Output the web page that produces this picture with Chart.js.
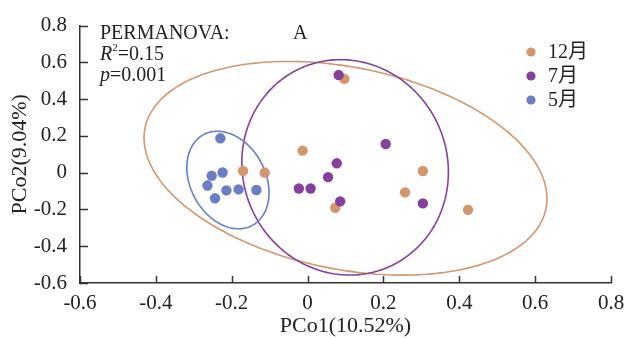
<!DOCTYPE html>
<html>
<head>
<meta charset="utf-8">
<script src="https://cdn.jsdelivr.net/npm/chart.js@4.4.1/dist/chart.umd.min.js"></script>
<style>
  html, body { margin: 0; padding: 0; background: #fff; }
  #wrap { width: 625px; height: 340px; }
</style>
</head>
<body>
<div id="wrap"><canvas id="pcoa" width="625" height="340"></canvas></div>
<script>
// --- data ---
const groupNames = ["12月", "7月", "5月"];
const groupColors = ["#d3976f", "#83419b", "#6b7ec4"];

const decX = [-0.170, -0.113, -0.013, 0.097, 0.073, 0.304, 0.257, 0.423];
const decY = [0.010, 0.000, 0.120, 0.510, -0.191, 0.009, -0.107, -0.202];
const julX = [0.082, 0.206, 0.077, 0.054, -0.023, 0.008, 0.086, 0.304];
const julY = [0.531, 0.156, 0.051, -0.024, -0.086, -0.086, -0.156, -0.167];
const mayX = [-0.230, -0.224, -0.253, -0.264, -0.214, -0.182, -0.135, -0.244];
const mayY = [0.187, 0.001, -0.017, -0.070, -0.096, -0.091, -0.094, -0.139];

// confidence ellipses (centre, semi axes, rotation in degrees, data units)
const ellCx = [0.100, 0.099, -0.210];
const ellCy = [0.024, 0.029, -0.040];
const ellRx = [0.634, 0.272, 0.104];
const ellRy = [0.467, 0.586, 0.267];
const ellAng = [-53.8, 1.5, 7.1];

const xTicks = [-0.6, -0.4, -0.2, 0, 0.2, 0.4, 0.6, 0.8];
const yTicks = [-0.6, -0.4, -0.2, 0, 0.2, 0.4, 0.6, 0.8];

const statLines = ["PERMANOVA:", "R2=0.15", "p=0.001"];
const panelLabel = "A";

const FONT = "'Liberation Serif', 'Noto Sans CJK SC', serif";
const INK = "#222";

function toPoints(xs, ys) { return xs.map((x, i) => ({ x, y: ys[i] })); }

function ellipse(i) {
    const pts = [];
    const a = ellAng[i] * Math.PI / 180;
    for (let k = 0; k <= 120; k++) {
        const t = k / 120 * 2 * Math.PI;
        const ex = ellRx[i] * Math.cos(t), ey = ellRy[i] * Math.sin(t);
        pts.push({ x: ellCx[i] + ex * Math.cos(a) - ey * Math.sin(a),
                   y: ellCy[i] + ex * Math.sin(a) + ey * Math.cos(a) });
    }
    return pts;
}

const series = [toPoints(decX, decY), toPoints(julX, julY), toPoints(mayX, mayY)];

const datasets = [];
series.forEach((pts, i) => {
    datasets.push({ label: groupNames[i], data: pts, backgroundColor: groupColors[i],
        borderWidth: 0, pointRadius: 5.2, order: 3 - i });
});
series.forEach((pts, i) => {
    // small tension keeps chart.js off its "fast path" that flattens vertical bits
    datasets.push({ label: groupNames[i] + ' ellipse', data: ellipse(i), showLine: true,
        borderColor: groupColors[i], borderWidth: 1.6, pointRadius: 0, fill: false,
        tension: 0.05, order: 6 - i });
});

// inward tick marks, legend and PERMANOVA text
const extras = {
    id: 'extras',
    afterDraw(chart) {
        const ctx = chart.ctx;
        const xs = chart.scales.x, ys = chart.scales.y;
        const area = chart.chartArea;
        ctx.save();
        ctx.strokeStyle = '#333';
        ctx.lineWidth = 1.5;
        xTicks.forEach(v => {
            const p = Math.round(xs.getPixelForValue(v)) + 0.5;
            ctx.beginPath(); ctx.moveTo(p, area.bottom); ctx.lineTo(p, area.bottom - 7); ctx.stroke();
        });
        yTicks.forEach(v => {
            const p = Math.round(ys.getPixelForValue(v)) + 0.5;
            ctx.beginPath(); ctx.moveTo(area.left, p); ctx.lineTo(area.left + 8, p); ctx.stroke();
        });

        // legend
        ctx.textBaseline = 'middle';
        ctx.font = '20px ' + FONT;
        groupNames.forEach((n, i) => {
            const y = 52 + i * 24;
            ctx.fillStyle = groupColors[i];
            ctx.beginPath(); ctx.arc(531, y, 4.6, 0, Math.PI * 2); ctx.fill();
            ctx.fillStyle = INK;
            ctx.fillText(n, 548, y + 1);
        });

        // stats text
        ctx.textBaseline = 'alphabetic';
        ctx.fillStyle = INK;
        const left = 100;
        ctx.font = '20px ' + FONT;
        ctx.fillText(statLines[0], left, 39);
        ctx.fillText(panelLabel, 293, 39);
        // R² line
        ctx.font = 'italic 20px ' + FONT;
        ctx.fillText('R', left, 60);
        let w = ctx.measureText('R').width;
        ctx.font = '11px ' + FONT;
        ctx.fillText(statLines[1].charAt(1), left + w, 51);
        w += ctx.measureText('2').width;
        ctx.font = '20px ' + FONT;
        ctx.fillText(statLines[1].slice(2), left + w, 60);
        // p line
        ctx.font = 'italic 20px ' + FONT;
        ctx.fillText('p', left, 81);
        w = ctx.measureText('p').width;
        ctx.font = '20px ' + FONT;
        ctx.fillText(statLines[2].slice(1), left + w, 81);
        ctx.restore();
    }
};

const fmt = v => Math.abs(v) < 1e-9 ? '0' : (Math.round(v * 10) / 10).toFixed(1);

new Chart(document.getElementById('pcoa'), {
    type: 'scatter',
    data: { datasets },
    options: {
        responsive: false,
        animation: false,
        layout: { padding: { top: 18, right: 14, left: 0, bottom: 0 } },
        plugins: { legend: { display: false }, tooltip: { enabled: false } },
        scales: {
            x: {
                type: 'linear', min: -0.6, max: 0.8,
                afterBuildTicks: s => { s.ticks = xTicks.map(v => ({ value: v })); },
                afterFit: s => { s.height = 57; s.paddingLeft = 0; s.paddingRight = 0; },
                grid: { display: false, drawTicks: false },
                border: { display: true, color: '#333', width: 1.5 },
                ticks: { callback: fmt, color: INK, padding: 8, maxRotation: 0,
                    font: { family: FONT, size: 21 } },
                title: { display: true, text: 'PCo1(10.52%)', color: INK,
                    padding: { top: 0, bottom: 1 }, font: { family: FONT, size: 22 } }
            },
            y: {
                type: 'linear', min: -0.6, max: 0.8,
                afterBuildTicks: s => { s.ticks = yTicks.map(v => ({ value: v })); },
                afterFit: s => { s.width = 80; },
                grid: { display: false, drawTicks: false },
                border: { display: true, color: '#333', width: 1.5 },
                ticks: { callback: fmt, color: INK, padding: 13,
                    font: { family: FONT, size: 21 } },
                title: { display: true, text: 'PCo2(9.04%)', color: INK,
                    padding: { top: 7, bottom: 0 }, font: { family: FONT, size: 22 } }
            }
        }
    },
    plugins: [extras]
});
</script>
</body>
</html>
